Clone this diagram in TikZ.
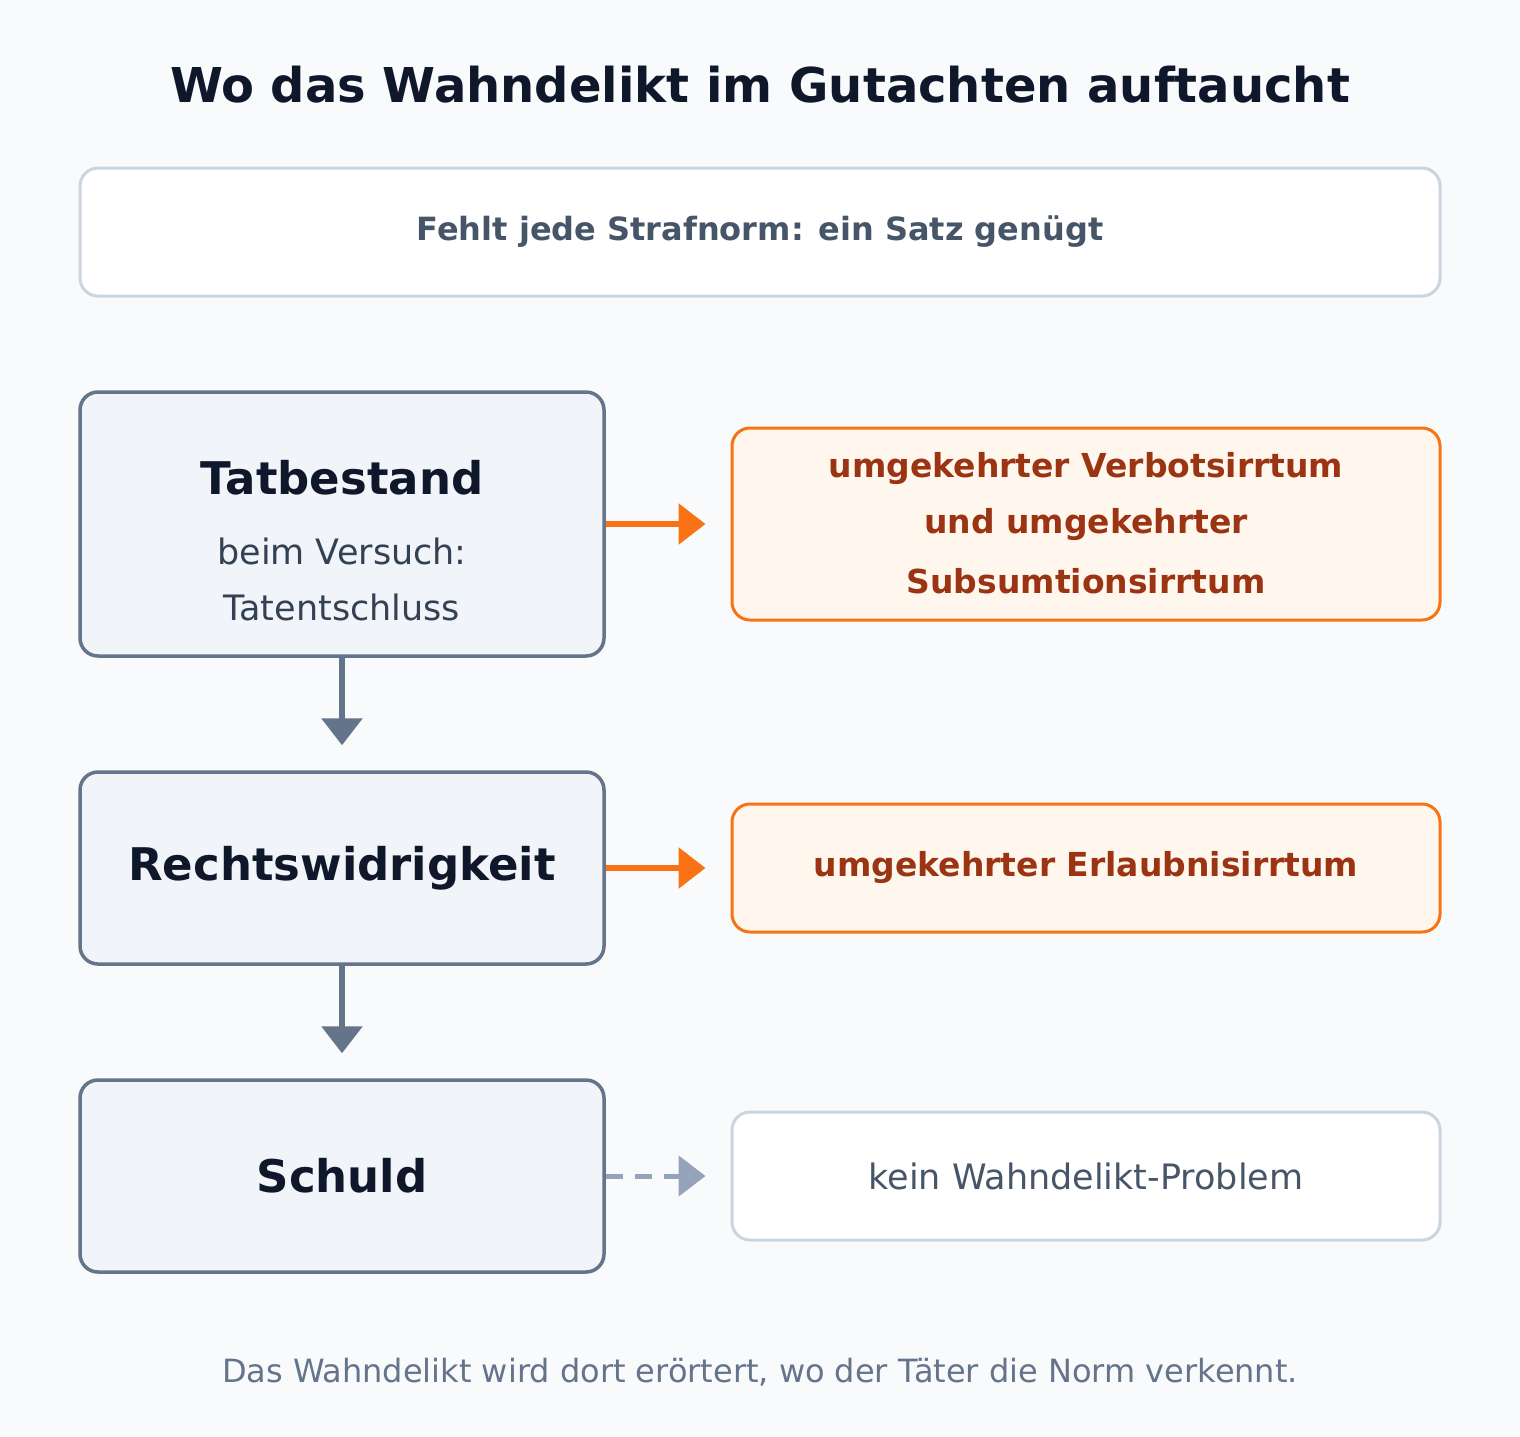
\documentclass[tikz,border=0pt]{standalone}
\usepackage{fontspec}
\setmainfont{DejaVu Sans}
\usetikzlibrary{arrows.meta}
\definecolor{bg}{HTML}{F8FAFC}
\definecolor{titlec}{HTML}{0F172A}
\definecolor{slate}{HTML}{64748B}
\definecolor{slatefill}{HTML}{F1F5F9}
\definecolor{lightborder}{HTML}{CBD5E1}
\definecolor{textgray}{HTML}{475569}
\definecolor{subgray}{HTML}{334155}
\definecolor{orangeb}{HTML}{F97316}
\definecolor{orangef}{HTML}{FFF7ED}
\definecolor{oranget}{HTML}{9A3412}
\definecolor{dashc}{HTML}{94A3B8}
\newcommand{\fs}[1]{\fontsize{#1}{#1}\selectfont}
\tikzset{
  stepbox/.style={draw=slate, line width=3.5pt, fill=slatefill, rounded corners=18pt, minimum width=524pt, inner sep=0pt},
  hitbox/.style={draw=orangeb, line width=3pt, fill=orangef, rounded corners=18pt, minimum width=708pt, inner sep=0pt},
  plainbox/.style={draw=lightborder, line width=3pt, fill=white, rounded corners=18pt, inner sep=0pt},
  downarrow/.style={draw=slate, line width=6pt, -{Triangle[length=27pt,width=40pt]}, shorten >=25pt},
  hitarrow/.style={draw=orangeb, line width=6pt, -{Triangle[length=27pt,width=40pt]}, shorten >=25pt},
  missarrow/.style={draw=dashc, line width=5pt, dash pattern=on 17pt off 12pt, -{Triangle[length=27pt,width=40pt]}, shorten >=25pt},
}
\begin{document}
\begin{tikzpicture}[x=1pt,y=-1pt]
\fill[bg] (0,0) rectangle (1520,1436);
\useasboundingbox (0,0) rectangle (1520,1436);

\node[text=titlec] (title) at (760,85) {\fs{48}\bfseries Wo das Wahndelikt im Gutachten auftaucht};

\node[plainbox, minimum width=1360pt, minimum height=128pt, text=textgray] (top) at (760,232) {\fs{32}\bfseries Fehlt jede Strafnorm: ein Satz genügt};

\node[stepbox, minimum height=264pt] (tb) at (342,524) {};
\node[text=titlec] (tbt) at (342,478) {\fs{45}\bfseries Tatbestand};
\node[text=subgray] (tb1) at (342,551) {\fs{35}beim Versuch:};
\node[text=subgray] (tb2) at (342,607) {\fs{35}Tatentschluss};

\node[stepbox, minimum height=192pt, text=titlec] (rw) at (342,868) {\fs{45}\bfseries Rechtswidrigkeit};
\node[stepbox, minimum height=192pt, text=titlec] (sc) at (342,1176) {\fs{45}\bfseries Schuld};

\node[hitbox, minimum height=192pt] (va) at (1086,524) {};
\node[text=oranget] (va1) at (1086,469) {\fs{33}\bfseries umgekehrter Verbotsirrtum};
\node[text=oranget] (va2) at (1086,525) {\fs{33}\bfseries und umgekehrter};
\node[text=oranget] (va3) at (1086,581) {\fs{33}\bfseries Subsumtionsirrtum};

\node[hitbox, minimum height=128pt, text=oranget] (ea) at (1086,868) {\fs{33}\bfseries umgekehrter Erlaubnisirrtum};
\node[plainbox, minimum width=708pt, minimum height=128pt, text=textgray] (kw) at (1086,1176) {\fs{35}kein Wahndelikt-Problem};

\draw[downarrow] (tb.south) -- (rw.north);
\draw[downarrow] (rw.south) -- (sc.north);
\draw[hitarrow] (tb.east) -- (va.west);
\draw[hitarrow] (rw.east) -- (ea.west);
\draw[missarrow] (sc.east) -- (kw.west);

\node[text=slate] (foot) at (760,1372) {\fs{32}Das Wahndelikt wird dort erörtert, wo der Täter die Norm verkennt.};
\end{tikzpicture}
\end{document}
